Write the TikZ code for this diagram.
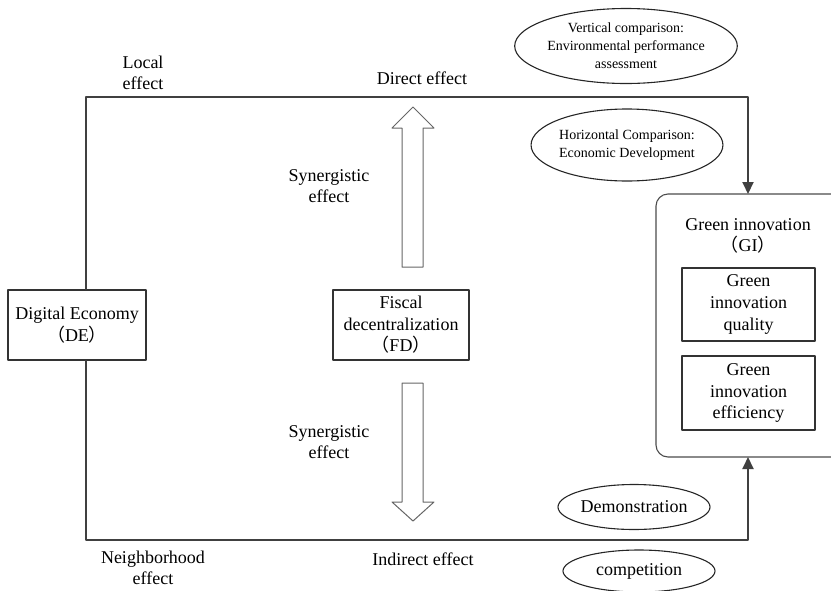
\documentclass[tikz,border=0pt]{standalone}
\usepackage{fontspec}
\setmainfont{Liberation Serif}
\newfontfamily\cjk{Noto Sans CJK SC}
\usetikzlibrary{arrows.meta,shapes.geometric}

\tikzset{
  box/.style={draw=black!80,line width=1.3pt,align=center,inner sep=2pt,
    font=\fontsize{18}{21.6}\selectfont},
  oval/.style={draw=black!85,line width=1.1pt,ellipse,align=center,inner sep=0pt,
    font=\fontsize{14}{18}\selectfont},
  lbl/.style={align=center,inner sep=0pt,font=\fontsize{18}{21.6}\selectfont},
  flow/.style={draw=black!75,line width=2pt},
  blockarrow/.style={draw=black!60,line width=1pt,fill=white}
}

\begin{document}
\begin{tikzpicture}
	[line cap=round,line join=round,>={Triangle[length=12pt,width=11pt]},x=1pt,y=-1pt]
	\useasboundingbox (0,0) rectangle (831,590);
	\clip (0,0) rectangle (831,590);
	\node[box,minimum width=138,minimum height=70] (de) at (77,325) {Digital Economy\\{\cjk （}DE{\cjk ）}};
	\node[box,minimum width=136,minimum height=70] (fd) at (401,325) {Fiscal\\decentralization\\{\cjk （}FD{\cjk ）}};
	\draw[draw=black!70,line width=1.1pt,rounded corners=12pt] (656,194) rectangle (860,457);
	\coordinate (gi-n) at (748,194);
	\coordinate (gi-s) at (748,457);
	\node[lbl] (gi) at (748,236) {Green innovation\\{\cjk （}GI{\cjk ）}};
	\node[box,minimum width=133,minimum height=73] (giq) at (748.5,304.5) {Green\\innovation\\quality};
	\node[box,minimum width=133,minimum height=74] (gie) at (748.5,393) {Green\\innovation\\efficiency};
	\node[oval,minimum width=178,minimum height=75] (vc) at (626,46) {Vertical comparison:\\Environmental performance\\assessment};
	\node[oval,minimum width=180,minimum height=72] (hc) at (627,145) {Horizontal Comparison:\\Economic Development};
	\node[oval,minimum width=152,minimum height=45,font=\fontsize{18}{21.6}\selectfont] (demo) at (634,507) {Demonstration};
	\node[oval,minimum width=152,minimum height=42,font=\fontsize{18}{21.6}\selectfont] (comp) at (639,571) {competition};
	% connectors
	\coordinate (tl) at (86,97);
	\coordinate (tr) at (748,97);
	\coordinate (bl) at (86,540);
	\coordinate (br) at (748,540);
	\draw[flow,->] (de.north -| tl) -- (tl) -- (tr) -- (gi-n);
	\draw[flow,->] (de.south -| bl) -- (bl) -- (br) -- (gi-s);
	% synergistic arrows
	\draw[blockarrow] (402,267) -- (402,128) -- (392,128) -- (413,107) -- (434,128) -- (423,128) -- (423,267) -- cycle;
	\draw[blockarrow] (402,383) -- (402,502) -- (392,502) -- (413,521) -- (434,502) -- (423,502) -- (423,383) -- cycle;
	% labels
	\node[lbl] (local) at (143,73) {Local\\effect};
	\node[lbl] (direct) at (422,78) {Direct effect};
	\node[lbl] (syn1) at (329,186) {Synergistic\\effect};
	\node[lbl] (syn2) at (329,442) {Synergistic\\effect};
	\node[lbl] (nbh) at (153,568) {Neighborhood\\effect};
	\node[lbl] (indirect) at (423,559) {Indirect effect};
\end{tikzpicture}
\end{document}
